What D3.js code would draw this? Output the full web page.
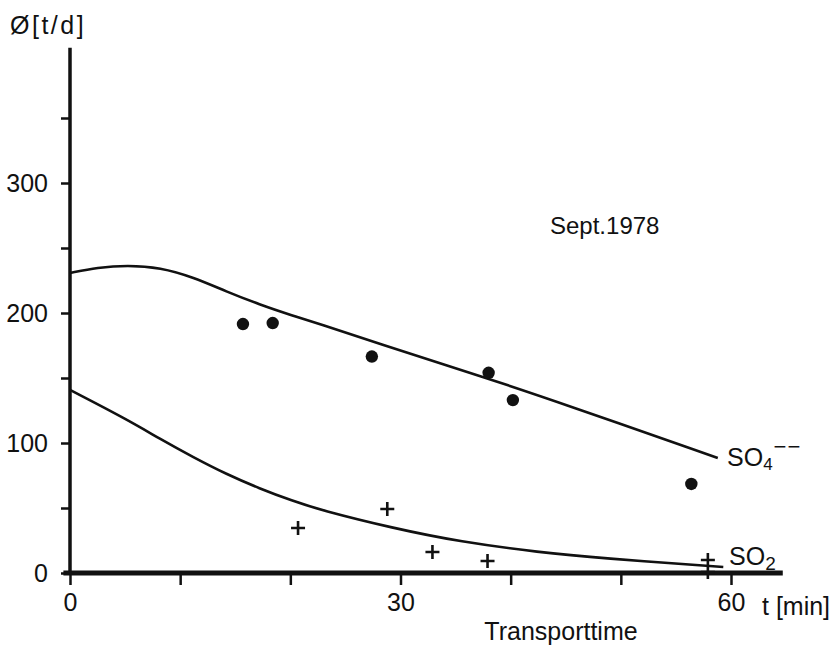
<!DOCTYPE html>
<html>
<head>
<meta charset="utf-8">
<script src="https://cdn.jsdelivr.net/npm/d3@7"></script>
<style>
  body { margin: 0; background: #fff; }
  svg { display: block; font-family: "Liberation Sans", Arial, sans-serif; }
  text { fill: #111; }
</style>
</head>
<body>
<div id="chart"></div>
<script>
const width = 838;
const height = 654;

// measured points (t in min, flux in t/d)
const so4Dots = [
  [15.7, 191.5], [18.4, 192.3], [27.4, 166.5],
  [38.0, 154], [40.2, 133], [56.4, 68.5]
];
const so2Crosses = [
  [20.7, 34.6], [28.8, 49.2], [32.9, 16.2],
  [37.9, 9.2], [57.9, 10], [57.9, 0.8]
];

// fitted curves
const so4Curve = [
  [0, 230.8], [2.5, 235], [5.2, 236.8], [8.2, 235], [11.2, 227.5], [14.2, 216.5],
  [17.2, 206.5], [20.2, 198], [22.7, 191.5], [27.4, 178], [38.0, 149.5],
  [44.5, 131], [58.8, 88.5]
];
const so2Curve = [
  [0, 140.8], [5.2, 118], [8.2, 103], [11.2, 89], [14.2, 76],
  [17.2, 65], [20.2, 55.5], [22.7, 48.5], [29.3, 34.5], [35.4, 24],
  [42.7, 15.8], [48.1, 11.5], [59.3, 4.6]
];

const yTicks = [0, 50, 100, 150, 200, 250, 300, 350];
const yLabels = [0, 100, 200, 300];
const xTicks = [0, 10, 20, 30, 40, 50, 60];
const xLabels = [0, 30, 60];

const x = d3.scaleLinear().domain([0, 60]).range([70, 731]);
const y = d3.scaleLinear().domain([0, 300]).range([573, 183]);

const svg = d3.select("#chart")
    .append("svg")
    .attr("width", width)
    .attr("height", height);

// axes
const yAxis = svg.append("g")
    .attr("transform", `translate(${x(0)},0)`)
    .call(d3.axisLeft(y)
        .tickValues(yTicks)
        .tickSize(9)
        .tickPadding(10)
        .tickFormat(d => yLabels.includes(d) ? d : ""));
yAxis.select(".domain").remove();
yAxis.selectAll(".tick line").attr("stroke", "#111").attr("stroke-width", 2.5);
yAxis.selectAll(".tick text").style("font-size", "25px").attr("dx", -3);
yAxis.append("line")
    .attr("x1", 0).attr("x2", 0)
    .attr("y1", y(0) + 2).attr("y2", y(404))
    .attr("stroke", "#111").attr("stroke-width", 3.5);

const xAxis = svg.append("g")
    .attr("transform", `translate(0,${y(0)})`)
    .call(d3.axisBottom(x)
        .tickValues(xTicks)
        .tickSize(12)
        .tickPadding(8)
        .tickFormat(d => xLabels.includes(d) ? d : ""));
xAxis.select(".domain").remove();
xAxis.selectAll(".tick line").attr("stroke", "#111").attr("stroke-width", 2.5);
xAxis.selectAll(".tick text").style("font-size", "25px");
xAxis.append("line")
    .attr("x1", x(-0.6)).attr("x2", x(64.7))
    .attr("y1", 0).attr("y2", 0)
    .attr("stroke", "#111").attr("stroke-width", 5);

// curves
const line = d3.line()
    .x(d => x(d[0]))
    .y(d => y(d[1]))
    .curve(d3.curveBasis);

svg.selectAll("path.curve")
    .data([so4Curve, so2Curve])
    .join("path")
    .attr("class", "curve")
    .attr("d", line)
    .attr("fill", "none")
    .attr("stroke", "#111")
    .attr("stroke-width", 2.6);

// markers
svg.selectAll("circle.dot")
    .data(so4Dots)
    .join("circle")
    .attr("class", "dot")
    .attr("cx", d => x(d[0]))
    .attr("cy", d => y(d[1]))
    .attr("r", 6.2)
    .attr("fill", "#111");

svg.selectAll("path.cross")
    .data(so2Crosses)
    .join("path")
    .attr("class", "cross")
    .attr("transform", d => `translate(${x(d[0])},${y(d[1])})`)
    .attr("d", "M-7,0H7M0,-7V7")
    .attr("stroke", "#111")
    .attr("stroke-width", 2.6);

// labels
svg.append("text")
    .attr("x", 10).attr("y", 34)
    .style("font-size", "25px")
    .style("letter-spacing", "2.5px")
    .text("Ø[t/d]");

svg.append("text")
    .attr("x", 550).attr("y", 234)
    .style("font-size", "24px")
    .text("Sept.1978");

const so4Label = svg.append("text")
    .attr("x", 727).attr("y", 466)
    .style("font-size", "25px");
so4Label.append("tspan").text("SO");
so4Label.append("tspan").attr("dy", 4).style("font-size", "17px").text("4");
so4Label.append("tspan").attr("dy", -16).attr("dx", 1).style("font-size", "22px")
    .style("letter-spacing", "1px").text("−−");

const so2Label = svg.append("text")
    .attr("x", 729).attr("y", 565)
    .style("font-size", "25px");
so2Label.append("tspan").text("SO");
so2Label.append("tspan").attr("dy", 5).style("font-size", "19px").text("2");

svg.append("text")
    .attr("x", 762).attr("y", 615)
    .style("font-size", "25px")
    .text("t [min]");

svg.append("text")
    .attr("x", 561).attr("y", 640)
    .attr("text-anchor", "middle")
    .style("font-size", "25px")
    .text("Transporttime");
</script>
</body>
</html>
